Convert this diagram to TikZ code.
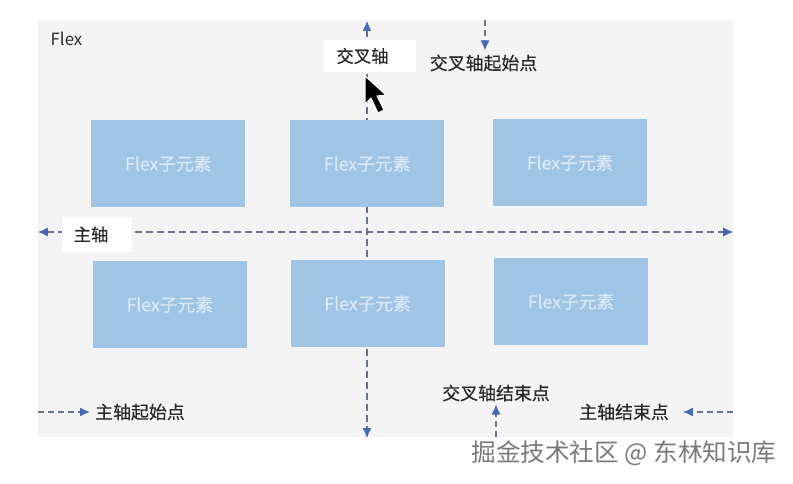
\documentclass[tikz,border=0pt]{standalone}
\usepackage{fontspec}
\setmainfont{Noto Sans CJK SC}
\newfontfamily\heavyfont[FakeBold=0.35]{Noto Sans CJK SC}
\usetikzlibrary{arrows.meta,positioning}
\definecolor{panel}{RGB}{244,244,245}
\definecolor{item}{RGB}{160,196,228}
\definecolor{itemtext}{RGB}{218,233,246}
\definecolor{axisline}{RGB}{104,116,140}
\definecolor{axishead}{RGB}{70,106,176}
\definecolor{ink}{RGB}{40,40,40}

\begin{document}
\begin{tikzpicture}[
  x=1pt, y=-1pt,
  node distance=44.5pt,
  itembox/.style={fill=item, text=itemtext, font=\heavyfont\fontsize{17.7}{19}\selectfont, minimum width=154pt, minimum height=87pt, inner sep=0pt},
  axislabel/.style={fill=white, text=ink, font=\heavyfont\fontsize{17.3}{19}\selectfont, inner sep=0pt},
  note/.style={text=ink, font=\heavyfont\fontsize{17.9}{19}\selectfont, inner sep=0pt},
  axisarr/.style={{Latex[length=10pt,width=9pt,color=axishead]}-{Latex[length=10pt,width=9pt,color=axishead]}, axisline, line width=1.1pt, dash pattern=on 7pt off 4pt},
  arr/.style={-{Latex[length=10pt,width=9pt,color=axishead]}, axisline, line width=1.1pt, dash pattern=on 6pt off 4pt}]
  \useasboundingbox (0,0) rectangle (793,484);
  \node[fill=panel, minimum width=695pt, minimum height=417pt, inner sep=0pt] (flex) at (385.5,228.5) {};
  \node[text=ink, font=\fontsize{16.8}{18}\selectfont, inner sep=0pt] (flexname) at (66.5,38.5) {Flex};
  % axes
  \coordinate (mainL) at (flex.west |- 0,232);
  \coordinate (mainR) at (flex.east |- 0,232);
  \coordinate (crossT) at (367,21);
  \coordinate (crossB) at (367,438);
  \draw[axisarr] (mainL) -- (mainR);
  \draw[axisarr] (crossT) -- (crossB);
  % items
  \node[itembox, anchor=north west] (a) at (91,120) {Flex子元素};
  \node[itembox, right=of a] (b) {Flex子元素};
  \node[itembox, right=48.5pt of b, yshift=1pt] (c) {Flex子元素};
  \node[itembox, below=53.5pt of a, xshift=1.5pt] (d) {Flex子元素};
  \node[itembox, right=43.5pt of d, yshift=1pt] (e) {Flex子元素};
  \node[itembox, right=49pt of e, yshift=2pt] (f) {Flex子元素};
  % labels
  \node[axislabel, minimum width=70pt, minimum height=35pt] (mainlabel) at (97,234.5) {\hspace*{-12pt}主轴};
  \node[axislabel, minimum width=92pt, minimum height=32pt] (crosslabel) at (370,56) {\hspace*{-15pt}交叉轴};
  \node[note] (crossstart) at (483.5,63) {交叉轴起始点};
  \node[note] (crossend) at (496,393) {交叉轴结束点};
  \node[note] (mainstart) at (140,412) {主轴起始点};
  \node[note] (mainend) at (624,412) {主轴结束点};
  \coordinate (crossstartfrom) at (485,20);
  \coordinate (crossendfrom) at (496,437);
  \coordinate (mainstartfrom) at (38,412);
  \coordinate (mainendfrom) at (733,412);
  \draw[arr] (crossstartfrom) -- ([yshift=4pt]crossstart.north -| crossstartfrom);
  \draw[arr] (crossendfrom) -- ([yshift=-3pt]crossend.south -| crossendfrom);
  \draw[arr] (mainstartfrom) -- ([xshift=-5pt]mainstart.west);
  \draw[arr] (mainendfrom) -- ([xshift=14pt]mainend.east);
  % pointer
  \draw[white, line width=1pt, fill=black, line join=round] (365,76) -- (365,104) -- (371,98) -- (378,113) -- (384,110) -- (377,96) -- (386,95) -- cycle;
  \node[text=black!52, font=\fontsize{24.6}{27}\selectfont, inner sep=0pt] (mark) at (624,453) {掘金技术社区 @ 东林知识库};
\end{tikzpicture}
\end{document}
